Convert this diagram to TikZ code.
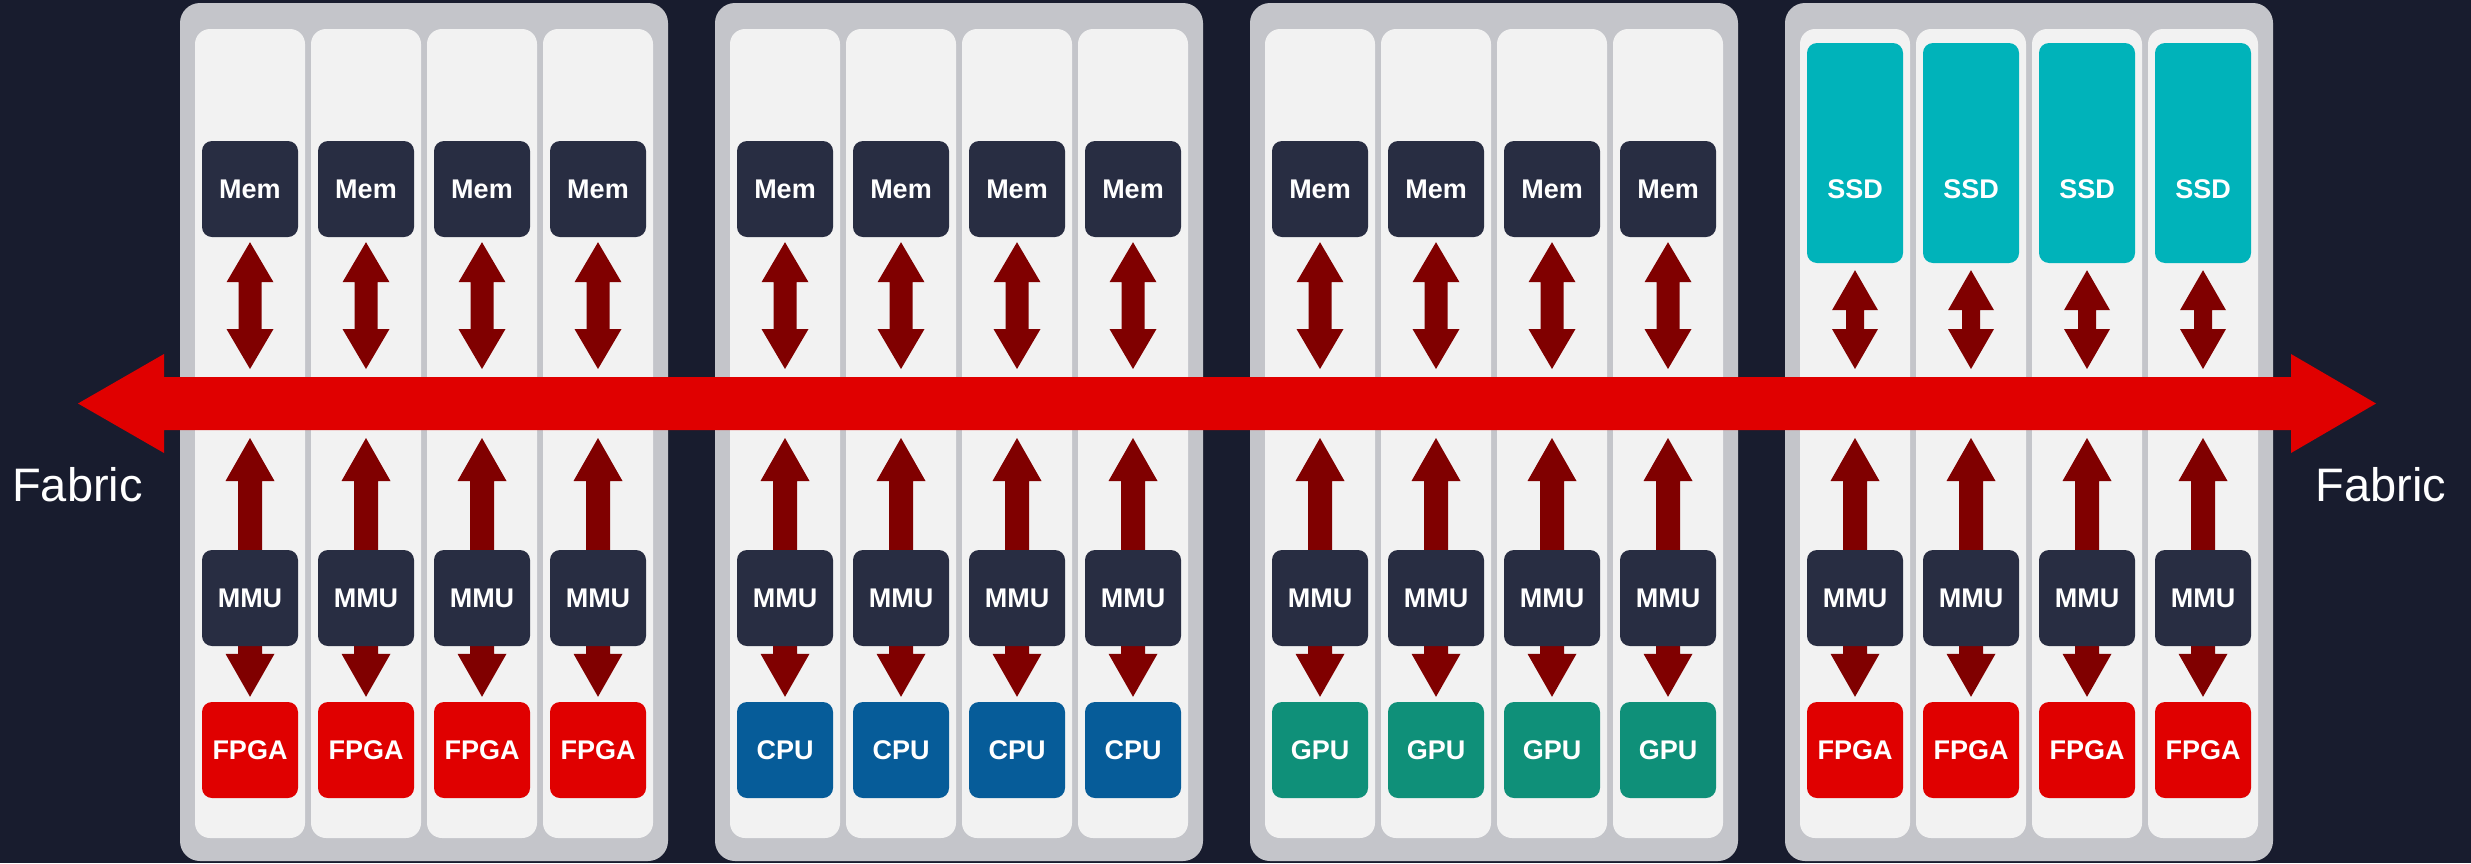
\documentclass[tikz,border=0pt]{standalone}
\usepackage{fontspec}
\setmainfont{Liberation Sans}
\usetikzlibrary{calc}
\definecolor{bgnavy}{HTML}{181C2E}
\definecolor{rackgray}{HTML}{C4C5CA}
\definecolor{slotgray}{HTML}{F2F2F2}
\definecolor{boxdark}{HTML}{282D42}
\definecolor{arrowred}{HTML}{800000}
\definecolor{fabricred}{HTML}{E00000}
\definecolor{cpublue}{HTML}{065C99}
\definecolor{gputeal}{HTML}{0F9079}
\definecolor{ssdcyan}{HTML}{00B3BA}
\pgfdeclarelayer{bglayer}
\pgfdeclarelayer{arrlayer}
\pgfsetlayers{bglayer,arrlayer,main}
% #1 top tip, #2 bottom tip, #3 shaft half width, #4 head half width, #5 head length
\newcommand{\vdarrow}[5]{%
  \fill[arrowred] (#1) -- ($(#1)+(#4,#5)$) -- ($(#1)+(#3,#5)$) -- ($(#2)+(#3,-#5)$) -- ($(#2)+(#4,-#5)$) -- (#2)
   -- ($(#2)+(-#4,-#5)$) -- ($(#2)+(-#3,-#5)$) -- ($(#1)+(-#3,#5)$) -- ($(#1)+(-#4,#5)$) -- cycle;}
\begin{document}
\begin{tikzpicture}[x=1pt,y=-1pt,
  rackbox/.style={fill=rackgray, rounded corners=20pt},
  slotbox/.style={fill=slotgray, rounded corners=15pt},
  unitbox/.style={rounded corners=10pt, minimum width=96pt, minimum height=96pt, inner sep=0pt,
     text=white, font=\fontsize{27}{28}\selectfont\bfseries},
  fabtext/.style={text=white, font=\fontsize{47}{50}\selectfont, inner sep=0pt}]
\begin{pgfonlayer}{bglayer}
\fill[bgnavy] (0,0) rectangle (2471,863);
\end{pgfonlayer}
\useasboundingbox (0,0) rectangle (2471,863);
\coordinate (fabT) at (0,377);
\coordinate (fabB) at (0,430);
\foreach \r/\L/\dev/\col in {1/180/FPGA/fabricred, 2/715/CPU/cpublue, 3/1250/GPU/gputeal, 4/1785/FPGA/fabricred}{
  \begin{pgfonlayer}{bglayer}
  \fill[rackbox] (\L,3) rectangle ++(488,858);
  \end{pgfonlayer}
  \foreach \s in {0,1,2,3}{
    \pgfmathsetmacro{\sx}{\L+15+116*\s}
    \pgfmathsetmacro{\cx}{\sx+55}
    \begin{pgfonlayer}{bglayer}
    \fill[slotbox] (\sx,29) rectangle ++(110,809);
    \end{pgfonlayer}
    \ifnum\r=4
      \node[unitbox, fill=ssdcyan, minimum height=220pt, text height=91pt, text depth=0pt] (top-\r-\s) at (\cx,153) {SSD};
    \else
      \node[unitbox, fill=boxdark] (top-\r-\s) at (\cx,189) {Mem};
    \fi
    \node[unitbox, fill=boxdark] (mmu-\r-\s) at (\cx,598) {MMU};
    \node[unitbox, fill=\col] (dev-\r-\s) at (\cx,750) {\dev};
  }
}
\begin{pgfonlayer}{arrlayer}
\foreach \r in {1,2,3,4}{
  \foreach \s in {0,1,2,3}{
    \ifnum\r=4
      \def\sh{9}\def\hh{23}\def\gap{7}
    \else
      \def\sh{11.5}\def\hh{23.5}\def\gap{5}
    \fi
    \path ($(top-\r-\s.south)+(0,\gap)$) coordinate (ua);
    \path (top-\r-\s.south |- fabT) ++(0,-8) coordinate (ub);
    \vdarrow{ua}{ub}{\sh}{\hh}{40}
    \path (mmu-\r-\s.north |- fabB) ++(0,8) coordinate (la);
    \path ($(dev-\r-\s.north)+(0,-5)$) coordinate (lb);
    \vdarrow{la}{lb}{12}{24.5}{43}
  }
}
\coordinate (fl) at (78,403.5);
\coordinate (fr) at (2376,403.5);
\fill[fabricred] (fl) -- ($(fl)+(86,-49.5)$) -- ($(fl)+(86,-26.5)$) -- ($(fr)+(-85,-26.5)$) -- ($(fr)+(-85,-49.5)$) -- (fr)
  -- ($(fr)+(-85,49.5)$) -- ($(fr)+(-85,26.5)$) -- ($(fl)+(86,26.5)$) -- ($(fl)+(86,49.5)$) -- cycle;
\end{pgfonlayer}
\node[fabtext] (fab-l) at (77.5,485) {Fabric};
\node[fabtext] (fab-r) at (2381,485) {Fabric};
\end{tikzpicture}
\end{document}
